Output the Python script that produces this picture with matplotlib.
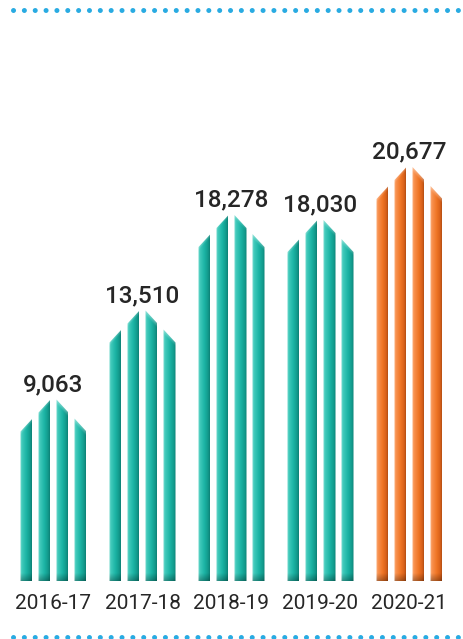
import numpy as np
import matplotlib.pyplot as plt
from matplotlib.patches import Polygon
from matplotlib.lines import Line2D
from matplotlib.colors import LinearSegmentedColormap

plt.rcParams['font.family'] = ['Roboto', 'DejaVu Sans']

years = ['2016-17', '2017-18', '2018-19', '2019-20', '2020-21']
values = [9063, 13510, 18278, 18030, 20677]
labels = ['9,063', '13,510', '18,278', '18,030', '20,677']
highlight = [False, False, False, False, True]

W, H = 464, 639
fig = plt.figure(figsize=(W / 100, H / 100), dpi=100)
ax = fig.add_axes([0, 0, 1, 1])
ax.set_axis_off()

# vertical: value units per pixel, baseline 58 px above the bottom edge
per_px = 20677 / 414
ax.set_ylim(-58 * per_px, (H - 58) * per_px)
# horizontal: one unit per group, groups 89 px apart
gx = 89.0
ax.set_xlim(-53.5 / gx, (W - 53.5) / gx)

teal = LinearSegmentedColormap.from_list('teal', [
    (0.0, '#7fdfd3'), (0.18, '#3fc9ba'), (0.55, '#1bb3a4'),
    (0.85, '#12998b'), (1.0, '#0d7f74')])
orange = LinearSegmentedColormap.from_list('orange', [
    (0.0, '#fdb788'), (0.18, '#f8914f'), (0.55, '#f07626'),
    (0.85, '#d8611a'), (1.0, '#b14d12')])

# four slim columns per bar, with a peaked roof (px offsets from group centre)
col_left = [-33, -15, 3, 21]
col_w = 12
roof = [(32, 19), (13, 0), (0, 13), (19, 32)]  # drop below peak: left, right
ss = 4  # supersampling for the shading images

for i, (v, hl) in enumerate(zip(values, highlight)):
    cmap = orange if hl else teal
    for left, (dl, dr) in zip(col_left, roof):
        x0 = i + left / gx
        x1 = i + (left + col_w) / gx
        yl = v - dl * per_px
        yr = v - dr * per_px
        poly = Polygon([(x0, 0), (x1, 0), (x1, yr), (x0, yl)], closed=True,
                       facecolor='none', edgecolor='none')
        ax.add_patch(poly)

        hpx = int(np.ceil(max(yl, yr) / per_px))
        nx, ny = col_w * ss, hpx * ss
        u = (np.arange(nx) + 0.5) / nx
        ypx = (np.arange(ny) + 0.5) / ss
        rgb = cmap(u)[:, :3][None, :, :].repeat(ny, axis=0)

        # darker foot of each column
        foot = np.clip(ypx / 8.0, 0, 1)
        shade = 0.7 + 0.3 * foot
        rgb = rgb * shade[:, None, None]

        # light bevel just under the slanted top
        top_px = (yl + (yr - yl) * u) / per_px
        dist = top_px[None, :] - ypx[:, None]
        bevel = np.clip(1 - dist / 4.0, 0, 1)[:, :, None] * 0.3
        rgb = rgb * (1 - bevel) + bevel

        im = ax.imshow(np.clip(rgb, 0, 1), origin='lower', aspect='auto',
                       extent=(x0, x1, 0, hpx * per_px),
                       interpolation='bilinear', zorder=2)
        im.set_clip_path(poly)

    ax.annotate(labels[i], (i, v), xytext=(0, 6), textcoords='offset points',
                ha='center', va='baseline', fontsize=17.5, fontweight='medium',
                color='#262626')
    ax.annotate(years[i], (i, 0), xytext=(0, -16.5), textcoords='offset points',
                ha='center', va='center', fontsize=15, color='#262626')

# dotted rules above and below
for yf in (1 - 10 / H, 2 / H):
    fig.add_artist(Line2D([13 / W, 462 / W], [yf, yf], transform=fig.transFigure,
                          color='#29abe2', linewidth=3.6,
                          linestyle=(0, (0.01, 2.16)), dash_capstyle='round'))

fig.savefig('out.png', dpi=100)
